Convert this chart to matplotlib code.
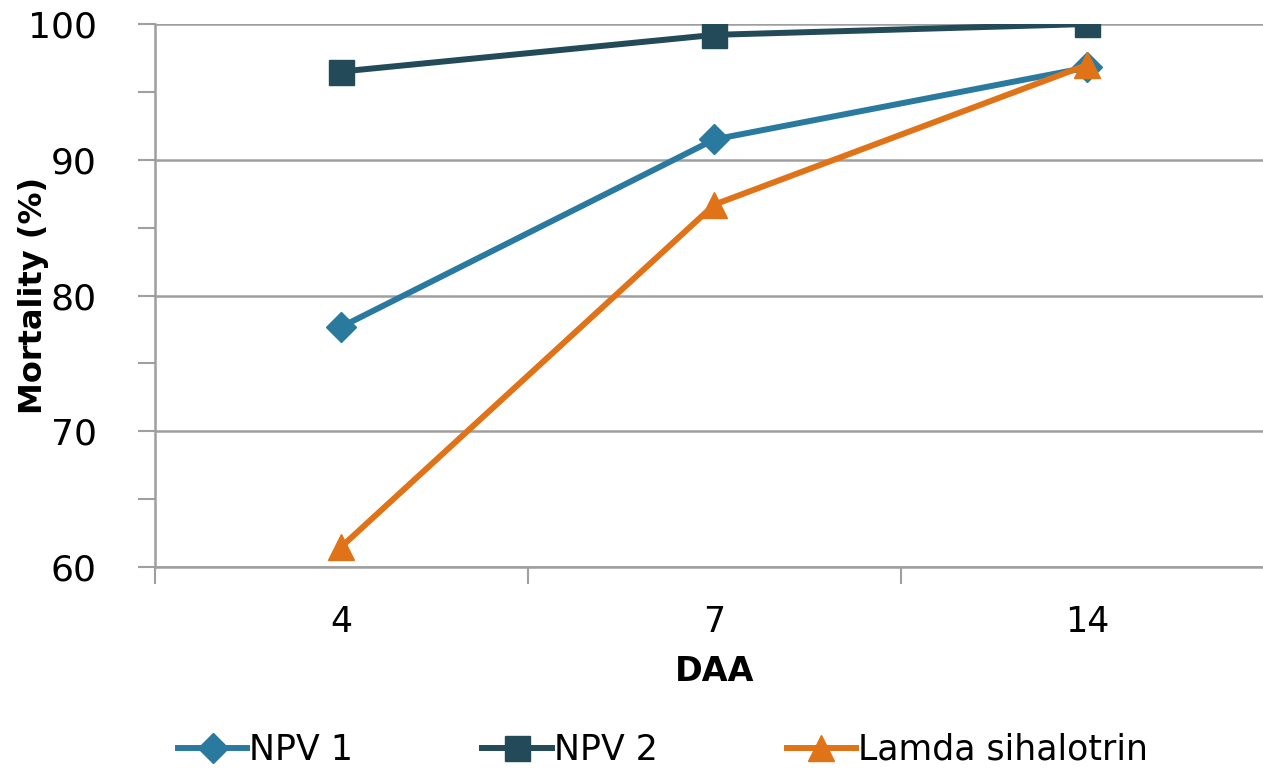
import matplotlib
matplotlib.use('Agg')
import matplotlib.pyplot as plt
from matplotlib.ticker import MultipleLocator, FixedLocator, NullFormatter

days = ['4', '7', '14']
npv1 = [77.7, 91.5, 96.8]
npv2 = [96.5, 99.2, 100.0]
lamda = [61.5, 86.7, 97.0]

plt.rcParams['font.family'] = ['DejaVu Sans']
grid_c = '#9f9f9f'

fig = plt.figure(figsize=(12.63, 7.70), dpi=100)
# right edge of the plot area runs past the image edge, as in the original
ax = fig.add_axes([155 / 1263, 203 / 770, 1119 / 1263, 543 / 770])

x = range(len(days))
ax.plot(x, npv1, color='#2a7aa0', lw=4.3, marker='D', ms=15, label='NPV 1', zorder=3)
ax.plot(x, npv2, color='#234a58', lw=4.3, marker='s', ms=18, label='NPV 2', zorder=3)
ax.plot(x, lamda, color='#e07318', lw=4.3, marker='^', ms=19, label='Lamda sihalotrin', zorder=4)

ax.set_xlim(-0.5, 2.5)
ax.set_ylim(60, 100)
ax.yaxis.set_major_locator(MultipleLocator(10))
ax.yaxis.set_minor_locator(MultipleLocator(5))
ax.grid(axis='y', which='major', color=grid_c, lw=1.8, zorder=0)

ax.set_xticks(list(x))
ax.set_xticklabels(days)
ax.xaxis.set_minor_locator(FixedLocator([-0.5, 0.5, 1.5]))
ax.xaxis.set_minor_formatter(NullFormatter())
ax.tick_params(axis='x', which='major', length=0, pad=27, labelsize=25)
ax.tick_params(axis='x', which='minor', length=12, width=1.5, color=grid_c)
ax.tick_params(axis='y', which='both', length=12, width=1.5, color=grid_c, labelsize=26, pad=30)

for s in ['top', 'right']:
    ax.spines[s].set_visible(False)
for s in ['left', 'bottom']:
    ax.spines[s].set_color(grid_c)
    ax.spines[s].set_linewidth(1.8)

ax.set_ylabel('Mortality (%)', fontsize=23, fontweight='bold')
ax.yaxis.set_label_coords(-0.095, 0.5)
ax.set_xlabel('DAA', fontsize=24, fontweight='bold', labelpad=12)

fig.legend(loc='center left', bbox_to_anchor=(178 / 1263, 20 / 770), ncol=3, frameon=False,
           fontsize=25, handlelength=2.0, handletextpad=0.05, columnspacing=3.72,
           borderpad=0, borderaxespad=0)

fig.savefig('out.png', dpi=100)
